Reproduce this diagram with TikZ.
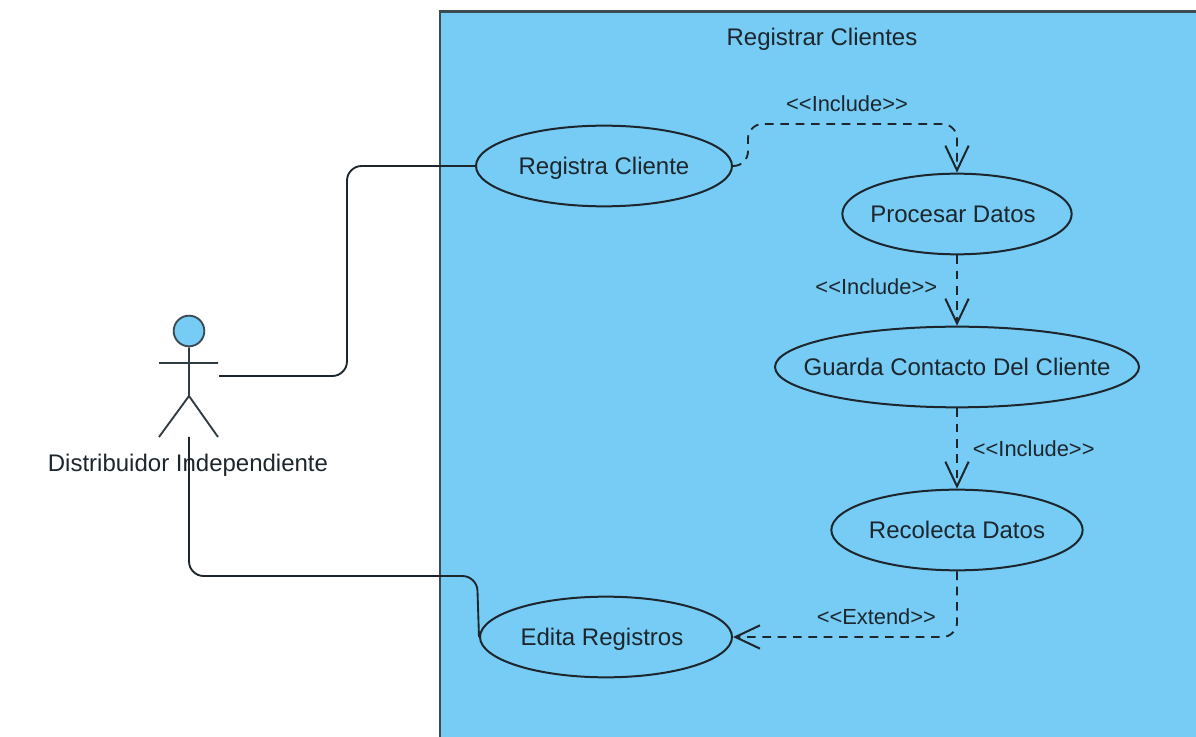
\documentclass[tikz,border=0pt]{standalone}
\usepackage{fontspec}
\setmainfont{Liberation Sans}
\usetikzlibrary{arrows.meta, positioning, shapes.geometric}
\definecolor{celeste}{HTML}{77CCF5}
\definecolor{trazo}{HTML}{1C262C}
\definecolor{marco}{HTML}{3C4A52}
\newcommand*{\incluye}{{<}{<}Include{>}{>}}
\newcommand*{\extiende}{{<}{<}Extend{>}{>}}

\begin{document}
\begin{tikzpicture}[x=0.75pt,y=0.75pt,on grid,font=\fontsize{18}{21}\selectfont,text=trazo,
      >={Straight Barb[length=18.5pt,width=17.5pt,line width=1.5pt]},
      rotulo/.style={text height=12.9pt,text depth=0pt,inner sep=0pt},
      caso/.style={rotulo,ellipse,draw=trazo,line width=1.5pt,minimum height=60.5pt,
        execute at begin node=\hbox to 0pt\bgroup\hss,execute at end node=\hss\egroup},
      asociacion/.style={draw=trazo,line width=1.4pt,rounded corners=11pt},
      dependencia/.style={draw=trazo,line width=1.4pt,dash pattern=on 6.5pt off 5pt,rounded corners=11pt,->},
      etiqueta/.style={font=\fontsize{16.4}{19}\selectfont,text height=11.7pt,text depth=0pt,inner sep=0pt},
      monigote/.style={draw=marco!80!black,line width=1.4pt}]
      \useasboundingbox (0,0) rectangle (1196,736);
      \node[rectangle,draw=marco,fill=celeste,line width=1.8pt,minimum width=900pt,minimum height=600pt,anchor=north west] (sistema) at (438.5,725.5) {};
      \node[rotulo] (titulo) at (822,699) {Registrar Clientes};
      \node[caso,minimum width=192pt] (registra) at (604,570) {Registra Cliente};
      \node[caso,minimum width=172pt] (procesar) [below right=36pt and 264.75pt of registra] {\hspace*{-6pt}Procesar Datos};
      \node[caso,minimum width=273pt] (guarda) [below=114.75pt of procesar] {Guarda Contacto Del Cliente};
      \node[caso,minimum width=188.5pt] (recolecta) [below=122.25pt of guarda] {Recolecta Datos};
      \node[caso,minimum width=189pt] (edita) [below left=80.25pt and 263.25pt of recolecta] {\hspace*{-6pt}Edita Registros};
      % actor
      \node[circle,draw=marco,fill=celeste,line width=1.4pt,minimum size=23pt,inner sep=0pt] (cabeza) at (189,405) {};
      \coordinate (cadera) at (189,340);
      \coordinate (hombroi) at (159,373);
      \coordinate (hombrod) at (218,373);
      \coordinate (pied) at (218,299);
      \coordinate (piei) at (159,299);
      \coordinate (mano) at (219,360);
      \coordinate (bajo) at (189,299);
      \draw[monigote] (cabeza) -- (cadera) (hombroi) -- (hombrod) (piei) -- (cadera) -- (pied);
      \node[rotulo] (actor) at (188,273) {Distribuidor Independiente};
      % conectores
      \draw[asociacion] (mano) -| (347,400) |- (registra.west);
      \draw[asociacion] (bajo) |- (477,160) -- (edita.west);
      \coordinate (salida) at (748,570);
      \coordinate (arriba) at (748,612);
      \draw[dependencia] (registra.east) -- (salida) -- (arriba) -| (procesar.north);
      \node[etiqueta] (inc1) at (847,632) {\incluye};
      \draw[dependencia] (procesar.south -| guarda.north) -- node[etiqueta,left=14.25pt,yshift=3pt] (inc2) {\incluye} (guarda.north);
      \draw[dependencia] (guarda.south) -- node[etiqueta,right=11.25pt] (inc3) {\incluye} (recolecta.north);
      \draw[dependencia] (recolecta.south) |- node[etiqueta,pos=0.68,above=9pt] (ext) {\extiende} (edita.east);
    \end{tikzpicture}
\end{document}
